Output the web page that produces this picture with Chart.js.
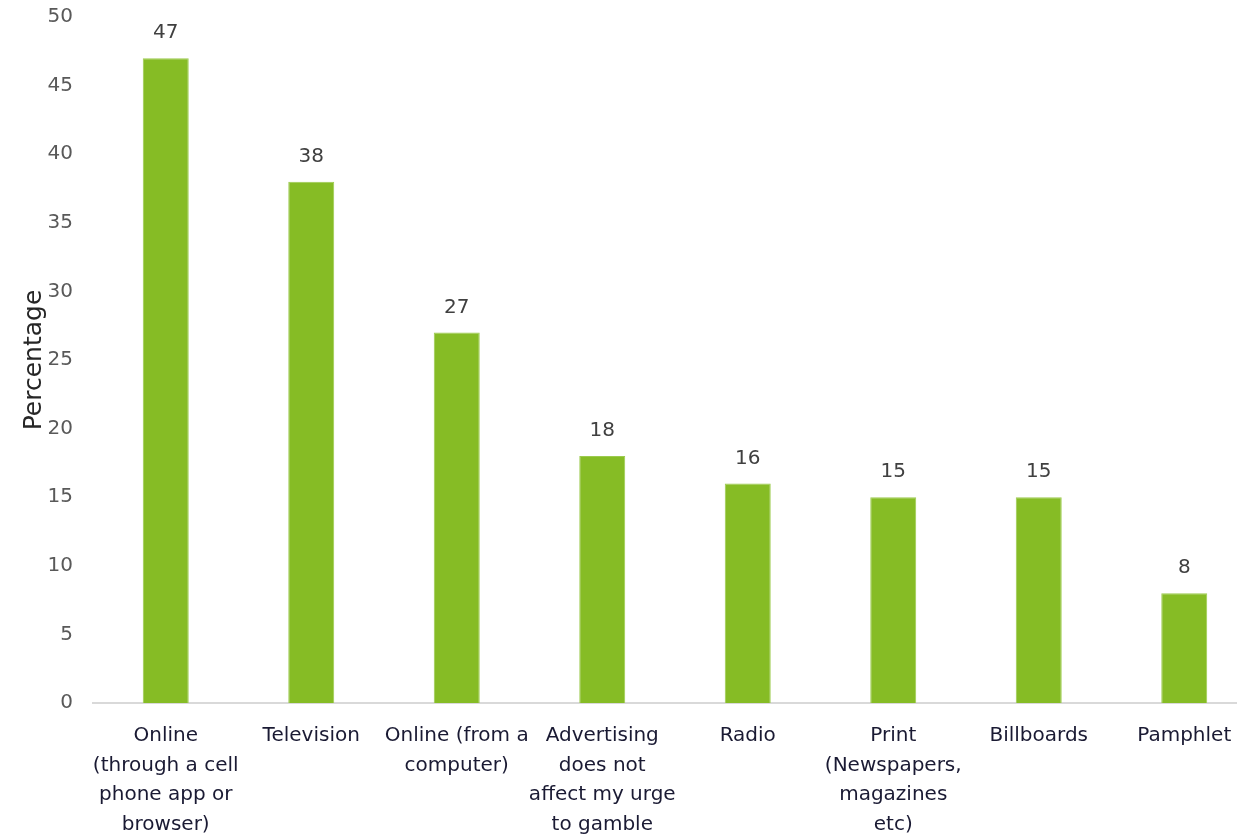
<!DOCTYPE html>
<html>
<head>
<meta charset="utf-8">
<script src="https://cdn.jsdelivr.net/npm/chart.js@4/dist/chart.umd.min.js"></script>
<style>
  html, body { margin: 0; padding: 0; background: #ffffff; overflow: hidden; }
  #wrap { width: 1258px; height: 836px; }
</style>
</head>
<body>
<div id="wrap"><canvas id="chart" width="1258" height="836"></canvas></div>
<script>
// Advertising channels reported, in percent
const categories = [
  ["Online", "(through a cell", "phone app or", "browser)"],
  "Television",
  ["Online (from a", "computer)"],
  ["Advertising", "does not", "affect my urge", "to gamble"],
  "Radio",
  ["Print", "(Newspapers,", "magazines", "etc)"],
  "Billboards",
  "Pamphlet"
];
const percentages = [47, 38, 27, 18, 16, 15, 15, 8];
const yTicks = [0, 5, 10, 15, 20, 25, 30, 35, 40, 45, 50];

const FONT = "'DejaVu Sans', Verdana, sans-serif";

// Writes each bar's value just above it
const valueLabels = {
  id: 'valueLabels',
  afterDatasetsDraw(chart) {
    const { ctx } = chart;
    const meta = chart.getDatasetMeta(0);
    ctx.save();
    ctx.font = "20px " + FONT;
    ctx.fillStyle = '#404040';
    ctx.textAlign = 'center';
    ctx.textBaseline = 'middle';
    meta.data.forEach((bar, i) => {
      ctx.fillText(String(percentages[i]), bar.x, bar.y - 25);
    });
    ctx.restore();
  }
};

new Chart(document.getElementById('chart'), {
  type: 'bar',
  data: {
    labels: categories,
    datasets: [{
      data: percentages,
      backgroundColor: '#86BC25',
      borderColor: '#9ccb4e',
      borderWidth: 1,
      barPercentage: 0.316,
      categoryPercentage: 1.0
    }]
  },
  options: {
    responsive: false,
    animation: false,
    layout: { padding: { top: 0, left: 0, right: 1, bottom: 0 } },
    plugins: {
      legend: { display: false },
      tooltip: { enabled: false }
    },
    scales: {
      x: {
        grid: { display: false, drawTicks: false },
        border: { display: true, color: '#d9d9d9', width: 2 },
        ticks: {
          padding: 18,
          maxRotation: 0,
          autoSkip: false,
          color: '#1a1a33',
          font: { family: FONT, size: 20, lineHeight: 1.48 }
        },
        afterFit(scale) { scale.height = 133; }
      },
      y: {
        min: 0,
        max: 50,
        grid: { display: false, drawTicks: false },
        border: { display: false },
        afterBuildTicks(scale) { scale.ticks = yTicks.map(v => ({ value: v })); },
        ticks: {
          padding: 20,
          color: '#595959',
          font: { family: FONT, size: 20 }
        },
        title: {
          display: true,
          text: 'Percentage',
          color: '#262626',
          padding: { top: 19, bottom: 0 },
          font: { family: FONT, size: 25 }
        },
        afterFit(scale) {
          scale.width = 93;
          scale.paddingTop = 17;
          scale.paddingBottom = 0;
        }
      }
    }
  },
  plugins: [valueLabels]
});
</script>
</body>
</html>
